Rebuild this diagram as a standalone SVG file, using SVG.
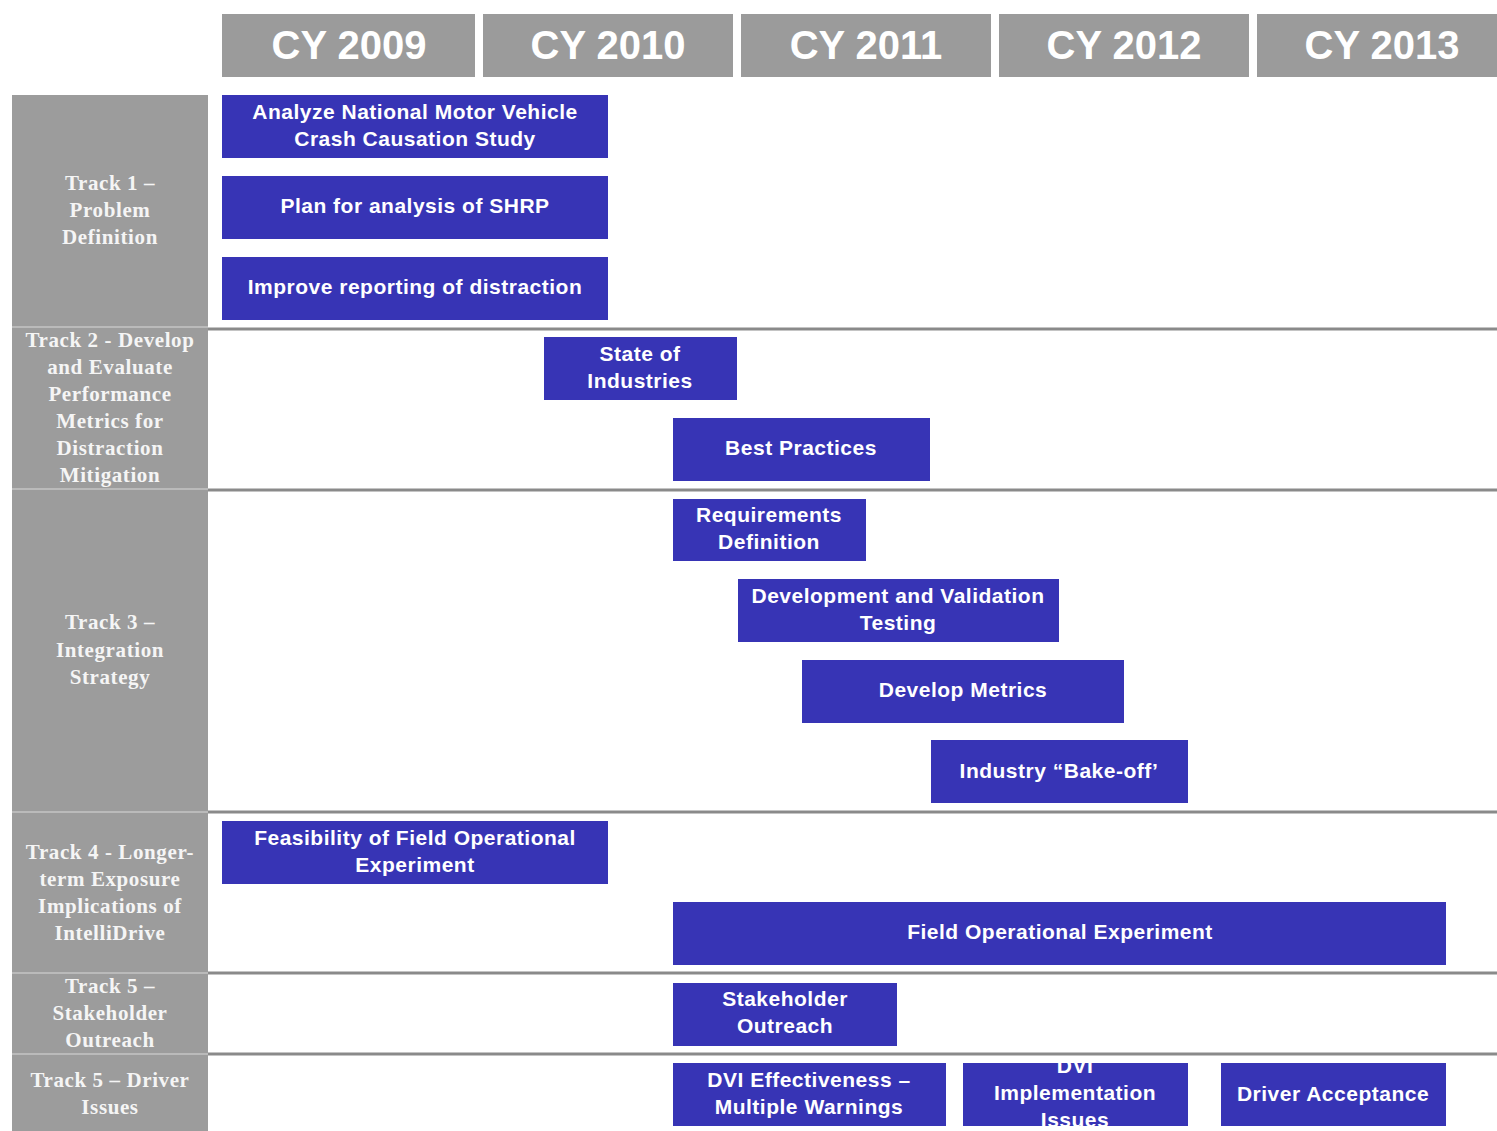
<svg xmlns="http://www.w3.org/2000/svg" width="1497" height="1131" viewBox="0 0 1497 1131">
<style>
.hdr{fill:#9b9b9b}
.hdrt{font-family:"Liberation Sans",Arial,sans-serif;font-weight:bold;font-size:40px;fill:#ffffff;text-anchor:middle}
.trk{fill:#9c9c9c}
.trkt{font-family:"Liberation Serif","Times New Roman",serif;font-weight:bold;font-size:21px;letter-spacing:0.6px;fill:#f5f5f5;text-anchor:middle}
.task{fill:#3734b5}
.taskt{font-family:"Liberation Sans",Arial,sans-serif;font-weight:bold;font-size:21px;letter-spacing:0.5px;fill:#ffffff;text-anchor:middle}
.sep{stroke:#8a8a8a;stroke-width:3}
.tsep{stroke:#c4c4c4;stroke-width:1.5}
</style>
<rect x="0" y="0" width="1497" height="1131" fill="#ffffff"/>

<g id="headers">
<g id="cy2009"><rect class="hdr" x="222" y="14" width="253" height="63"/><text class="hdrt" x="349" y="59">CY 2009</text></g>
<g id="cy2010"><rect class="hdr" x="483" y="14" width="250" height="63"/><text class="hdrt" x="608" y="59">CY 2010</text></g>
<g id="cy2011"><rect class="hdr" x="741" y="14" width="250" height="63"/><text class="hdrt" x="866" y="59">CY 2011</text></g>
<g id="cy2012"><rect class="hdr" x="999" y="14" width="250" height="63"/><text class="hdrt" x="1124" y="59">CY 2012</text></g>
<g id="cy2013"><rect class="hdr" x="1257" y="14" width="240" height="63"/><text class="hdrt" x="1382" y="59">CY 2013</text></g>
</g>

<g id="tracks">
<rect class="trk" x="12" y="95" width="196" height="1036"/>
<g id="track1"><text class="trkt" x="110"><tspan x="110" y="190">Track 1 –</tspan><tspan x="110" y="217">Problem</tspan><tspan x="110" y="244">Definition</tspan></text></g>
<g id="track2"><text class="trkt" x="110"><tspan x="110" y="347">Track 2 - Develop</tspan><tspan x="110" y="374">and Evaluate</tspan><tspan x="110" y="401">Performance</tspan><tspan x="110" y="428">Metrics for</tspan><tspan x="110" y="455">Distraction</tspan><tspan x="110" y="482">Mitigation</tspan></text></g>
<g id="track3"><text class="trkt" x="110"><tspan x="110" y="629">Track 3 –</tspan><tspan x="110" y="657">Integration</tspan><tspan x="110" y="684">Strategy</tspan></text></g>
<g id="track4"><text class="trkt" x="110"><tspan x="110" y="859">Track 4  - Longer-</tspan><tspan x="110" y="886">term Exposure</tspan><tspan x="110" y="913">Implications of</tspan><tspan x="110" y="940">IntelliDrive</tspan></text></g>
<g id="track5a"><text class="trkt" x="110"><tspan x="110" y="993">Track 5 –</tspan><tspan x="110" y="1020">Stakeholder</tspan><tspan x="110" y="1047">Outreach</tspan></text></g>
<g id="track5b"><text class="trkt" x="110"><tspan x="110" y="1087">Track 5 – Driver</tspan><tspan x="110" y="1114">Issues</tspan></text></g>
<line class="tsep" x1="12" y1="327" x2="208" y2="327"/>
<line class="tsep" x1="12" y1="489" x2="208" y2="489"/>
<line class="tsep" x1="12" y1="812" x2="208" y2="812"/>
<line class="tsep" x1="12" y1="973" x2="208" y2="973"/>
<line class="tsep" x1="12" y1="1054" x2="208" y2="1054"/>
</g>

<g id="connectors">
<line class="sep" x1="208" y1="329" x2="1497" y2="329"/>
<line class="sep" x1="208" y1="490" x2="1497" y2="490"/>
<line class="sep" x1="208" y1="812" x2="1497" y2="812"/>
<line class="sep" x1="208" y1="973" x2="1497" y2="973"/>
<line class="sep" x1="208" y1="1054" x2="1497" y2="1054"/>
</g>

<g id="analyze"><rect class="task" x="222" y="95" width="386" height="63"/><text class="taskt"><tspan x="415" y="119">Analyze National Motor Vehicle</tspan><tspan x="415" y="146">Crash Causation Study</tspan></text></g>
<g id="plan"><rect class="task" x="222" y="176" width="386" height="63"/><text class="taskt" x="415" y="213">Plan for analysis of SHRP</text></g>
<g id="improve"><rect class="task" x="222" y="257" width="386" height="63"/><text class="taskt" x="415" y="294">Improve reporting of distraction</text></g>
<g id="state"><rect class="task" x="544" y="337" width="193" height="63"/><text class="taskt"><tspan x="640" y="361">State of</tspan><tspan x="640" y="388">Industries</tspan></text></g>
<g id="best"><rect class="task" x="673" y="418" width="257" height="63"/><text class="taskt" x="801" y="455">Best Practices</text></g>
<g id="requirements"><rect class="task" x="673" y="499" width="193" height="62"/><text class="taskt"><tspan x="769" y="522">Requirements</tspan><tspan x="769" y="549">Definition</tspan></text></g>
<g id="devval"><rect class="task" x="738" y="579" width="321" height="63"/><text class="taskt"><tspan x="898" y="603">Development and Validation</tspan><tspan x="898" y="630">Testing</tspan></text></g>
<g id="metrics"><rect class="task" x="802" y="660" width="322" height="63"/><text class="taskt" x="963" y="697">Develop Metrics</text></g>
<g id="bakeoff"><rect class="task" x="931" y="740" width="257" height="63"/><text class="taskt" x="1059" y="778">Industry “Bake-off’</text></g>
<g id="feasibility"><rect class="task" x="222" y="821" width="386" height="63"/><text class="taskt"><tspan x="415" y="845">Feasibility of Field Operational</tspan><tspan x="415" y="872">Experiment</tspan></text></g>
<g id="foe"><rect class="task" x="673" y="902" width="773" height="63"/><text class="taskt" x="1060" y="939">Field Operational Experiment</text></g>
<g id="stakeholder"><rect class="task" x="673" y="983" width="224" height="63"/><text class="taskt"><tspan x="785" y="1006">Stakeholder</tspan><tspan x="785" y="1033">Outreach</tspan></text></g>
<g id="dvieff"><rect class="task" x="673" y="1063" width="273" height="63"/><text class="taskt"><tspan x="809" y="1087">DVI Effectiveness –</tspan><tspan x="809" y="1114">Multiple Warnings</tspan></text></g>
<g id="dviimpl"><rect class="task" x="963" y="1063" width="225" height="63"/><text class="taskt"><tspan x="1075" y="1073">DVI</tspan><tspan x="1075" y="1100">Implementation</tspan><tspan x="1075" y="1127">Issues</tspan></text></g>
<g id="driver"><rect class="task" x="1221" y="1063" width="225" height="63"/><text class="taskt" x="1333" y="1101">Driver Acceptance</text></g>
</svg>
